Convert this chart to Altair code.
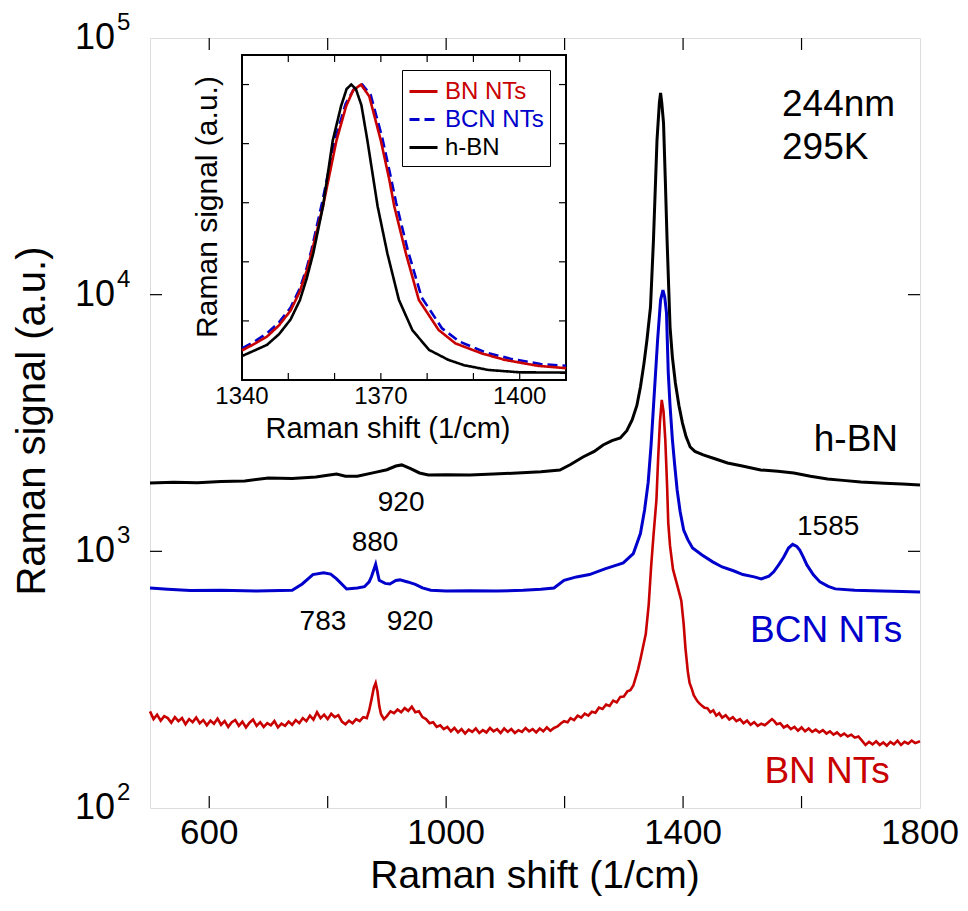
import altair as alt
import pandas as pd

FONT = "Liberation Sans"
RED = "#C80000"
BLUE = "#0000CC"
BLACK = "#000000"

# ---------------- main spectra (Raman shift, signal) ----------------
HBN_X = [500, 540, 580, 620, 660, 700, 740, 780, 800, 815, 830, 850, 880, 900, 915, 925, 940, 955, 970,
         1000, 1040, 1080, 1120, 1160, 1192, 1210, 1231, 1250, 1265, 1280, 1294, 1305, 1314, 1322, 1328,
         1334, 1339, 1345, 1350, 1356, 1360, 1362, 1364, 1367, 1370, 1373, 1378, 1382, 1387, 1393, 1399,
         1405, 1412, 1420, 1434, 1455, 1475, 1500, 1531, 1560, 1587, 1615, 1644, 1670, 1700, 1740, 1770, 1800]
HBN_Y = [1847, 1860, 1850, 1870, 1880, 1931, 1920, 1950, 1980, 2000, 1960, 1960, 2030, 2080, 2150, 2171, 2100, 2020, 1985,
         1990, 1985, 2000, 2020, 2040, 2075, 2180, 2332, 2450, 2597, 2700, 2765, 2950, 3251, 3700, 4370,
         5400, 6661, 8950, 16330, 40100, 56000, 61100, 56000, 46600, 28000, 16300, 7480, 5700, 4530, 3700, 3160,
         2800, 2550, 2450, 2375, 2290, 2210, 2150, 2075, 2050, 2020, 1960, 1914, 1890, 1862, 1840, 1830, 1814]

BCN_X = [500, 530, 568, 620, 680, 740, 757, 775, 793, 805, 815, 832, 850, 862, 870, 874, 881, 887, 897, 905,
         915, 922, 935, 948, 960, 974, 1000, 1040, 1086, 1130, 1160, 1182, 1199, 1220, 1242, 1268, 1285, 1299,
         1316, 1328, 1335, 1341, 1346, 1350, 1357, 1362, 1366, 1369, 1372, 1375, 1378, 1382, 1386, 1390, 1395,
         1401, 1408, 1416, 1432, 1450, 1466, 1485, 1501, 1520, 1532, 1545, 1553, 1562, 1570, 1578, 1585, 1592,
         1597, 1603, 1609, 1620, 1631, 1645, 1657, 1690, 1735, 1770, 1800]
BCN_Y = [720, 712, 703, 705, 700, 705, 746, 812, 825, 815, 781, 713, 720, 728, 760, 798, 890, 771, 750, 746,
         770, 774, 760, 743, 720, 705, 700, 702, 700, 705, 712, 720, 771, 795, 812, 855, 880, 902,
         980, 1173, 1450, 1847, 2600, 3652, 6660, 9530, 10420, 9800, 8490, 4960, 3700, 2717, 2150, 1734, 1430,
         1211, 1110, 1031, 968, 910, 869, 840, 812, 795, 781, 800, 832, 890, 950, 1030, 1065, 1045,
         1012, 950, 885, 810, 760, 730, 714, 705, 701, 698, 695]

# BN NTs: (shift, signal)
BN_POINTS = [
    (500, 238), (506, 222), (512, 231), (518, 219), (524, 228), (530, 224), (536, 215), (542, 226), (548, 218),
    (554, 224), (560, 212), (566, 222), (572, 216), (578, 225), (584, 214), (590, 220), (596, 210), (602, 219),
    (608, 213), (614, 223), (620, 211), (626, 218), (632, 207), (638, 216), (644, 220), (650, 209), (656, 217),
    (662, 206), (668, 215), (674, 221), (680, 209), (686, 216), (692, 207), (698, 214), (704, 210), (710, 218),
    (716, 206), (722, 213), (728, 209), (734, 217), (740, 211), (746, 220), (752, 214), (758, 224), (764, 218),
    (770, 229), (776, 221), (782, 236), (788, 224), (794, 231), (800, 222), (806, 233), (812, 226), (818, 230),
    (824, 217), (830, 212), (836, 219), (842, 214), (848, 222), (854, 218), (860, 226), (866, 224), (870, 240),
    (874, 265), (878, 295), (881, 307), (884, 285), (887, 250), (890, 232), (895, 222), (900, 228), (906, 238),
    (912, 234), (918, 242), (924, 236), (930, 245), (936, 239), (942, 248), (948, 236), (954, 238), (960, 226),
    (966, 222), (972, 214), (978, 216), (984, 207), (990, 210), (996, 203), (1002, 207), (1008, 199), (1014, 205),
    (1020, 197), (1026, 203), (1032, 195), (1038, 202), (1044, 198), (1050, 204), (1056, 196), (1062, 201),
    (1068, 197), (1074, 205), (1080, 199), (1086, 203), (1092, 196), (1098, 204), (1104, 198), (1110, 203),
    (1116, 196), (1122, 201), (1128, 198), (1134, 205), (1140, 199), (1146, 203), (1152, 197), (1158, 204),
    (1164, 199), (1170, 206), (1176, 200), (1182, 205), (1188, 208), (1194, 214), (1199, 218), (1205, 216),
    (1210, 224), (1216, 220), (1222, 229), (1228, 225), (1234, 233), (1240, 229), (1246, 237), (1252, 235),
    (1258, 246), (1264, 243), (1270, 253), (1276, 250), (1282, 262), (1288, 258), (1294, 271), (1300, 272),
    (1306, 285), (1311, 288), (1316, 300), (1320, 322), (1324, 347), (1328, 380), (1332, 420), (1337, 476),
    (1342, 620), (1346, 869), (1350, 1150), (1355, 1585), (1358, 2332), (1361, 3200), (1364, 3890), (1367, 3500),
    (1370, 2717), (1373, 1800), (1375, 1288), (1378, 1050), (1383, 850), (1390, 740), (1397, 642), (1401, 520),
    (1404, 420), (1408, 340), (1411, 307), (1415, 290), (1418, 275), (1421, 268), (1424, 261), (1428, 255),
    (1432, 250), (1436, 246), (1441, 245), (1446, 236), (1451, 240), (1456, 229), (1461, 234), (1466, 225),
    (1472, 230), (1478, 221), (1484, 226), (1490, 218), (1496, 222), (1502, 214), (1508, 219), (1514, 211),
    (1520, 216), (1526, 209), (1532, 213), (1538, 210), (1544, 216), (1550, 222), (1554, 218), (1558, 212),
    (1564, 214), (1570, 206), (1576, 210), (1582, 203), (1588, 207), (1594, 200), (1600, 206), (1606, 199),
    (1612, 204), (1618, 198), (1624, 202), (1630, 197), (1636, 201), (1642, 195), (1648, 199), (1654, 193),
    (1660, 197), (1666, 191), (1672, 195), (1678, 190), (1684, 193), (1690, 188), (1696, 190), (1702, 183),
    (1708, 176), (1714, 181), (1720, 177), (1726, 182), (1732, 176), (1738, 180), (1744, 175), (1750, 181),
    (1756, 177), (1762, 183), (1768, 176), (1774, 181), (1780, 178), (1786, 183), (1792, 179), (1800, 182),
]
BN_X = [p[0] for p in BN_POINTS]
BN_Y = [p[1] for p in BN_POINTS]

# ---------------- inset (normalised) ----------------
IN_HBN_X = [1340, 1343, 1345.4, 1348, 1350.5, 1352.5, 1354, 1355.4, 1357.5, 1359.6, 1361.4, 1362.6, 1363.6,
            1364.6, 1365.8, 1367.1, 1369.3, 1371.4, 1373.9, 1376.8, 1380.4, 1384.6, 1388, 1393.2, 1400, 1410]
IN_HBN_Y = [0.081, 0.102, 0.119, 0.155, 0.205, 0.27, 0.345, 0.429, 0.588, 0.81, 0.927, 0.985, 1.0,
            0.985, 0.93, 0.81, 0.588, 0.429, 0.271, 0.169, 0.102, 0.068, 0.05, 0.034, 0.026, 0.025]
IN_BN_X = [1340, 1343, 1345.4, 1348, 1350.5, 1352.5, 1354, 1355, 1357.5, 1360.4, 1362.5, 1364, 1365.7,
           1367.5, 1370, 1371.8, 1372.9, 1375.4, 1378.2, 1382.5, 1386.1, 1391.8, 1396.8, 1403.9, 1410]
IN_BN_Y = [0.10, 0.125, 0.147, 0.185, 0.235, 0.30, 0.37, 0.429, 0.588, 0.81, 0.927, 0.98, 1.0,
           0.96, 0.81, 0.68, 0.588, 0.429, 0.271, 0.169, 0.124, 0.09, 0.068, 0.048, 0.04]
IN_BCN_X = [1340, 1343, 1345.4, 1348, 1350.5, 1352.5, 1354, 1355, 1357.3, 1360.2, 1362.4, 1364.2, 1366,
            1367.8, 1370.3, 1372.1, 1373.3, 1375.8, 1378.8, 1383.2, 1387, 1392.5, 1398, 1404.5, 1410]
IN_BCN_Y = [0.107, 0.133, 0.158, 0.195, 0.245, 0.31, 0.38, 0.44, 0.60, 0.82, 0.935, 0.985, 1.0,
            0.965, 0.82, 0.69, 0.60, 0.44, 0.28, 0.175, 0.13, 0.094, 0.072, 0.054, 0.048]

SERIES = ["BN NTs", "BCN NTs", "h-BN"]

# axes / ticks
X_DOMAIN = [500, 1800]
Y_DOMAIN = [100, 100000]
X_TICKS = [600, 800, 1000, 1200, 1400, 1600]
X_LABELS = [600, 1000, 1400, 1800]
Y_DECADES = [100, 1000, 10000, 100000]
Y_EXPONENTS = ["2", "3", "4", "5"]
Y_TICKS = [1000, 10000]
X_TITLE = "Raman shift (1/cm)"
Y_TITLE = "Raman signal (a.u.)"

IN_X_DOMAIN = [1340, 1410]
IN_Y_DOMAIN = [0, 1.1]
IN_X_TICKS = [1350, 1360, 1370, 1380, 1390, 1400]
IN_X_LABELS = [1340, 1370, 1400]
IN_Y_TICKS = [0.2, 0.4, 0.6, 0.8, 1.0]

# annotations
ANN_TEXT = ["920", "880", "783", "920", "1585"]
ANN_X = [924, 880, 792, 939, 1645]
ANN_Y = [1543, 1078, 531, 531, 1245]
COND_TEXT = ["244nm", "295K"]
COND_X = [1567, 1567]
COND_Y = [54800, 37290]
NAME_X = [1749, 1770, 1763]
NAME_Y = [138, 490, 2716]

W, H = 770, 770

xs = alt.Scale(domain=X_DOMAIN, nice=False, zero=False)
ys = alt.Scale(type="log", domain=Y_DOMAIN, nice=False)

XE = alt.X("x:Q", scale=xs, axis=None)
YE = alt.Y("v:Q", scale=ys, axis=None)


def spec_df(xv, yv):
    return pd.DataFrame({"x": xv, "v": yv})


hbn = alt.Chart(spec_df(HBN_X, HBN_Y)).mark_line(color=BLACK, strokeWidth=3).encode(x=XE, y=YE)
bcn = alt.Chart(spec_df(BCN_X, BCN_Y)).mark_line(color=BLUE, strokeWidth=3).encode(x=XE, y=YE)
bn = alt.Chart(spec_df(BN_X, BN_Y)).mark_line(color=RED, strokeWidth=2.6).encode(x=XE, y=YE)

xt = pd.DataFrame({"x": X_TICKS})
yt = pd.DataFrame({"v": Y_TICKS})
tick_b = alt.Chart(xt).mark_rule(color="black", strokeWidth=1.2).encode(x=XE, y=alt.value(H), y2=alt.value(H - 12))
tick_t = alt.Chart(xt).mark_rule(color="black", strokeWidth=1.2).encode(x=XE, y=alt.value(0), y2=alt.value(12))
tick_l = alt.Chart(yt).mark_rule(color="black", strokeWidth=1.2).encode(y=YE, x=alt.value(0), x2=alt.value(12))
tick_r = alt.Chart(yt).mark_rule(color="black", strokeWidth=1.2).encode(y=YE, x=alt.value(W), x2=alt.value(W - 12))

# x tick labels and axis titles
xlab = alt.Chart(pd.DataFrame({"x": X_LABELS})).mark_text(
    font=FONT, fontSize=35, align="center", baseline="middle", color="black").encode(
    x=XE, y=alt.value(H + 25), text=alt.Text("x:Q", format="d"))
xtitle = alt.Chart(pd.DataFrame({"t": [X_TITLE]})).mark_text(
    font=FONT, fontSize=39, align="center", baseline="alphabetic", color="black").encode(
    x=alt.value(W / 2), y=alt.value(H + 80), text="t:N")
ytitle = alt.Chart(pd.DataFrame({"t": [Y_TITLE]})).mark_text(
    font=FONT, fontSize=40, align="center", baseline="middle", angle=270, color="black").encode(
    x=alt.value(-117), y=alt.value(383), text="t:N")

ydf = pd.DataFrame({"v": Y_DECADES, "e": Y_EXPONENTS})
ylab_base = alt.Chart(ydf).mark_text(font=FONT, fontSize=36, align="right", baseline="middle", color="black").encode(
    y=YE, x=alt.value(-35), text=alt.value("10"))
ylab_exp = alt.Chart(ydf).mark_text(font=FONT, fontSize=24, align="left", baseline="middle", dy=-15,
                                    color="black").encode(y=YE, x=alt.value(-33), text="e:N")

ann = alt.Chart(pd.DataFrame({"t": ANN_TEXT, "x": ANN_X, "v": ANN_Y})).mark_text(
    font=FONT, fontSize=28, align="center", baseline="middle", color="black").encode(x=XE, y=YE, text="t:N")
cond = alt.Chart(pd.DataFrame({"t": COND_TEXT, "x": COND_X, "v": COND_Y})).mark_text(
    font=FONT, fontSize=37, align="left", baseline="middle", color="black").encode(x=XE, y=YE, text="t:N")

name_layers = []
for name, nx, ny, col in zip(SERIES, NAME_X, NAME_Y, [RED, BLUE, BLACK]):
    name_layers.append(
        alt.Chart(pd.DataFrame({"t": [name], "x": [nx], "v": [ny]})).mark_text(
            font=FONT, fontSize=37, align="right", baseline="middle", color=col).encode(x=XE, y=YE, text="t:N"))

main = alt.layer(hbn, bcn, bn, tick_b, tick_t, tick_l, tick_r, xlab, xtitle, ytitle, ylab_base, ylab_exp,
                 ann, cond, *name_layers)

# ---------------- inset ----------------
IX0, IX1 = 92, 416      # pixel range of the inset inside the plot area
IY0, IY1 = 342, 17
ixs = alt.Scale(domain=IN_X_DOMAIN, range=[IX0, IX1], nice=False, zero=False)
iys = alt.Scale(domain=IN_Y_DOMAIN, range=[IY0, IY1], nice=False, zero=False)
IXE = alt.X("x:Q", scale=ixs, axis=None)
IYE = alt.Y("v:Q", scale=iys, axis=None)

frame = alt.Chart(pd.DataFrame({"x0": [IN_X_DOMAIN[0]], "x1": [IN_X_DOMAIN[1]],
                                "y0": [IN_Y_DOMAIN[0]], "y1": [IN_Y_DOMAIN[1]]})).mark_rect(
    fill="white", stroke="black", strokeWidth=2).encode(
    x=alt.X("x0:Q", scale=ixs, axis=None), x2="x1:Q",
    y=alt.Y("y0:Q", scale=iys, axis=None), y2="y1:Q")

inset_df = pd.concat([
    pd.DataFrame({"x": IN_BCN_X, "v": IN_BCN_Y, "series": "BCN NTs", "o": 0}),
    pd.DataFrame({"x": IN_BN_X, "v": IN_BN_Y, "series": "BN NTs", "o": 1}),
    pd.DataFrame({"x": IN_HBN_X, "v": IN_HBN_Y, "series": "h-BN", "o": 2}),
])

leg = alt.Legend(title=None, orient="none", legendX=252, legendY=32, symbolType="stroke", symbolSize=784,
                 symbolStrokeWidth=3, labelFontSize=24, labelFont=FONT, padding=6, rowPadding=0,
                 fillColor="white", strokeColor="black", labelOffset=6, labelLimit=0,
                 labelColor={"expr": "datum.value === 'BN NTs' ? '%s' : (datum.value === 'BCN NTs' ? '%s' : '%s')"
                             % (RED, BLUE, BLACK)})

in_lines = alt.Chart(inset_df).mark_line(strokeWidth=2.6).encode(
    x=IXE, y=IYE,
    color=alt.Color("series:N", scale=alt.Scale(domain=SERIES, range=[RED, BLUE, BLACK]), legend=leg),
    strokeDash=alt.StrokeDash("series:N", scale=alt.Scale(domain=SERIES, range=[[1, 0], [10, 5], [1, 0]]),
                              legend=leg),
    order="o:Q")

ixt = pd.DataFrame({"x": IN_X_TICKS})
iyt = pd.DataFrame({"v": IN_Y_TICKS})
itick_b = alt.Chart(ixt).mark_rule(color="black", strokeWidth=1.2).encode(x=IXE, y=alt.value(IY0), y2=alt.value(IY0 - 7))
itick_t = alt.Chart(ixt).mark_rule(color="black", strokeWidth=1.2).encode(x=IXE, y=alt.value(IY1), y2=alt.value(IY1 + 7))
itick_l = alt.Chart(iyt).mark_rule(color="black", strokeWidth=1.2).encode(y=IYE, x=alt.value(IX0), x2=alt.value(IX0 + 7))
itick_r = alt.Chart(iyt).mark_rule(color="black", strokeWidth=1.2).encode(y=IYE, x=alt.value(IX1), x2=alt.value(IX1 - 7))

ilab = alt.Chart(pd.DataFrame({"x": IN_X_LABELS})).mark_text(
    font=FONT, fontSize=24, align="center", baseline="middle", color="black").encode(
    x=IXE, y=alt.value(359), text=alt.Text("x:Q", format="d"))
ixtitle = alt.Chart(pd.DataFrame({"t": [X_TITLE]})).mark_text(
    font=FONT, fontSize=29, align="center", baseline="middle", color="black").encode(
    x=alt.value(238), y=alt.value(391), text="t:N")
iytitle = alt.Chart(pd.DataFrame({"t": [Y_TITLE]})).mark_text(
    font=FONT, fontSize=30, align="center", baseline="middle", angle=270, color="black").encode(
    x=alt.value(58), y=alt.value(169), text="t:N")

inset = alt.layer(frame, in_lines, itick_b, itick_t, itick_l, itick_r, ilab, ixtitle, iytitle)

chart = alt.layer(main, inset).resolve_scale(x="independent", y="independent").properties(
    width=W, height=H,
    autosize=alt.AutoSizeParams(type="none"),
    padding={"left": 142, "top": 30, "right": 40, "bottom": 95},
).configure_view(stroke="#222222", strokeWidth=1.5).configure(background="white")

chart.save("out.html", embed_options={"renderer": "svg", "actions": False})
